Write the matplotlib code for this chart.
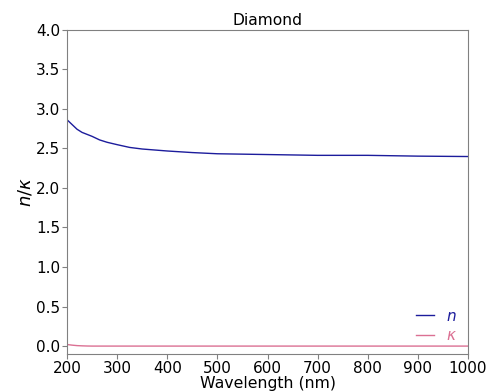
import matplotlib
matplotlib.use("Agg")
import matplotlib.pyplot as plt

# Optical constants of diamond
wavelength = [200, 210, 220, 230, 240, 250, 265, 280, 300, 325, 350, 400, 450, 500, 600, 700, 800, 900, 1000]
n_values = [2.86, 2.80, 2.74, 2.70, 2.675, 2.65, 2.605, 2.575, 2.545, 2.51, 2.49, 2.465, 2.445, 2.43, 2.42, 2.41, 2.41, 2.40, 2.395]
k_values = [0.02, 0.012, 0.006, 0.003, 0.001, 0.0, 0.0, 0.0, 0.0, 0.0, 0.0, 0.0, 0.0, 0.0, 0.0, 0.0, 0.0, 0.0, 0.0]

n_color = "#1c1c9c"
k_color = "#db7093"

fig = plt.figure(figsize=(4.9, 3.91), dpi=100)
ax = fig.add_axes([67 / 490, 1 - 354 / 391, (468 - 67) / 490, (354 - 29.5) / 391])

ax.plot(wavelength, n_values, color=n_color, lw=1.0, label="$n$")
ax.plot(wavelength, k_values, color=k_color, lw=1.0, label="$\\kappa$")

ax.set_xlim(200, 1000)
ax.set_ylim(-0.1, 4.0)
ax.set_xticks(range(200, 1001, 100))
ax.set_yticks([0.0, 0.5, 1.0, 1.5, 2.0, 2.5, 3.0, 3.5, 4.0])
ax.tick_params(labelsize=11, color="#808080", length=3.5, pad=1.5)
for s in ax.spines.values():
    s.set_color("#808080")

ax.set_title("Diamond", fontsize=11.2, pad=3)
ax.set_xlabel("Wavelength (nm)", fontsize=11.3, labelpad=0)
ax.set_ylabel("$n/\\kappa$", fontsize=13, labelpad=1)

leg = ax.legend(loc="lower right", frameon=False, fontsize=11, handlelength=1.2,
                handletextpad=0.8, labelspacing=0.3, labelcolor="linecolor",
                borderaxespad=0.3)

fig.savefig("out.png", dpi=100)
